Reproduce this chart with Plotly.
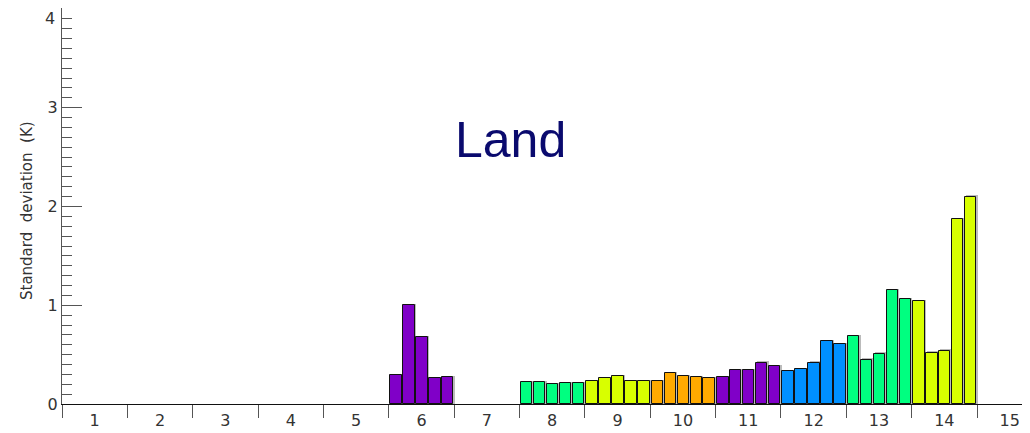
import plotly.graph_objects as go

# ---- data ----
categories = list(range(1, 16))
group_cats = [6, 8, 9, 10, 11, 12, 13, 14]
group_values = [
    [0.29, 1.00, 0.68, 0.26, 0.27],
    [0.225, 0.22, 0.20, 0.21, 0.215],
    [0.23, 0.26, 0.28, 0.23, 0.23],
    [0.235, 0.31, 0.28, 0.275, 0.26],
    [0.27, 0.34, 0.34, 0.42, 0.38],
    [0.33, 0.35, 0.42, 0.64, 0.61],
    [0.69, 0.45, 0.51, 1.155, 1.06],
    [1.04, 0.52, 0.54, 1.87, 2.10],
]
group_colors = ["#8000C8", "#00FF80", "#D8FF00", "#FFAA00",
                "#8000C8", "#0090FF", "#00FF80", "#D8FF00"]
y_ticks = [0, 1, 2, 3, 4]
title_text = "Land"
y_title = "Standard\u00a0 deviation\u00a0 (K)"

# ---- build ----
xs, ys, cols = [], [], []
for c, vals, col in zip(group_cats, group_values, group_colors):
    for i, v in enumerate(vals):
        xs.append(c - 0.39 + 0.198 * i)
        ys.append(v)
        cols.append(col)

fig = go.Figure()
# soft shadow
fig.add_trace(go.Bar(
    x=[x + 0.02 for x in xs], y=[y + 0.012 for y in ys], width=0.175,
    marker=dict(color="#BBBBBB", line=dict(width=0)),
    hoverinfo="skip", showlegend=False))
fig.add_trace(go.Bar(
    x=xs, y=ys, width=0.175,
    marker=dict(color=cols, line=dict(color="#111111", width=1)),
    showlegend=False))

# page body has an 8px margin -> compensate
OFF = 8
W, H = 1030 - OFF, 433 - OFF
L, T, B = 62 - OFF, 8 - OFF, 29
plot_w = W - L
plot_h = H - T - B
cat_px = 65.36
x_max = 0.5 + plot_w / cat_px
y_top = 4.01


def py(pix):
    """page pixel y -> paper fraction"""
    return (404 - pix) / plot_h


def px(pix):
    return (pix - 62) / plot_w


fig.update_layout(
    width=W, height=H,
    margin=dict(l=L, r=0, t=T, b=B, autoexpand=False),
    paper_bgcolor="white", plot_bgcolor="white",
    barmode="overlay", bargap=0,
    font=dict(family="DejaVu Sans", size=16, color="#333333"),
    xaxis=dict(
        range=[0.5, x_max], tickmode="array", tickvals=categories,
        ticktext=[str(c) for c in categories], ticks="",
        showgrid=False, zeroline=False, showline=True, linecolor="#111111",
        linewidth=1, ticklabelstandoff=2, automargin=False,
        minor=dict(ticks="outside", ticklen=13, tickcolor="#555555",
                   tickmode="linear", tick0=0.5, dtick=1, showgrid=False),
    ),
    yaxis=dict(
        range=[0, y_top], tickmode="array", tickvals=y_ticks,
        ticktext=[str(v) if v < 4 else "" for v in y_ticks],
        ticks="inside", ticklen=20, tickcolor="#555555",
        showgrid=False, zeroline=False, showline=True, linecolor="#555555",
        linewidth=1, automargin=False,
        minor=dict(ticks="inside", ticklen=10, tickcolor="#555555",
                   tickmode="linear", tick0=0, dtick=0.1, showgrid=False),
    ),
    annotations=[
        dict(text=str(y_ticks[-1]), xref="paper", yref="paper",
             x=px(57), y=py(18), xanchor="right", yanchor="middle",
             showarrow=False,
             font=dict(family="DejaVu Sans", size=16, color="#333333")),
        dict(text=title_text, xref="paper", yref="paper",
             x=px(510), y=py(140),
             xanchor="center", yanchor="middle", showarrow=False,
             font=dict(family="Liberation Sans", size=50, color="#0A0A6E")),
        dict(text=y_title, xref="paper", yref="paper",
             x=px(27), y=py(211),
             xanchor="center", yanchor="middle", textangle=-90,
             showarrow=False,
             font=dict(family="DejaVu Sans", size=15, color="#333333")),
    ],
)

fig.write_html("out.html")
